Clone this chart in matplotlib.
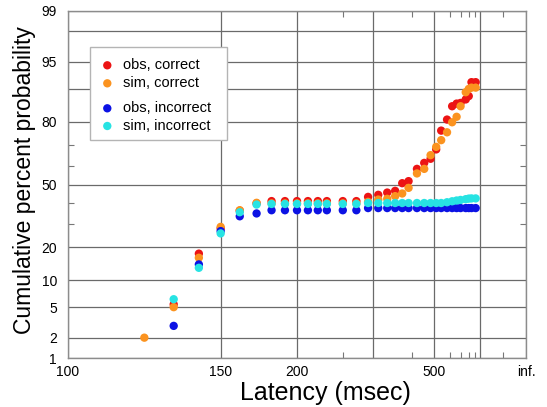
from statistics import NormalDist

import matplotlib

matplotlib.use("Agg")
import matplotlib.pyplot as plt
import numpy as np
from matplotlib.patches import Rectangle

# latency bins (ms) shared by all four series
latency_ms = [120, 130, 140, 150, 160, 170, 180, 190, 200, 210, 220, 230, 250, 270,
              290, 310, 330, 350, 370, 390, 420, 450, 480, 510, 540, 580, 620, 660,
              700, 760, 800, 840, 910]

# cumulative percent; nan = nothing plotted (0 %)
obs_correct = [np.nan, 5.4, 17.7, 27.8, 36.3, 40.0, 41.2, 41.2, 41.2, 41.2, 41.2, 41.2,
               41.2, 41.2, 43.4, 44.5, 45.7, 46.6, 50.7, 51.8, 58.3, 61.4, 63.5, 68.1,
               76.5, 80.8, 85.3, 86.1, 86.3, 87.3, 88.2, 91.5, 91.5]
sim_correct = [2.0, 5.0, 16.3, 28.5, 36.5, 40.3, 40.0, 40.0, 40.0, 40.0, 40.0, 40.0,
               40.0, 40.0, 40.8, 42.0, 42.4, 43.8, 45.2, 48.2, 55.9, 58.3, 65.3, 69.3,
               72.4, 75.8, 79.8, 81.8, 85.3, 89.2, 90.0, 90.3, 90.3]
obs_incorrect = [np.nan, 2.9, 14.2, 26.6, 33.5, 34.9, 36.5, 36.5, 36.5, 36.5, 36.5, 36.5,
                 36.5, 36.5, 37.6, 37.6, 37.6, 37.6, 37.6, 37.6, 37.6, 37.6, 37.6, 37.6,
                 37.6, 37.6, 37.6, 37.6, 37.6, 37.6, 37.6, 37.6, 37.6]
sim_incorrect = [np.nan, 6.2, 13.2, 25.6, 35.5, 39.4, 39.7, 39.7, 39.7, 39.7, 39.7, 39.7,
                 39.7, 39.7, 40.2, 40.2, 40.2, 40.2, 40.2, 40.2, 40.2, 40.2, 40.2, 40.2,
                 40.2, 40.6, 41.1, 41.5, 41.8, 42.2, 42.5, 42.6, 42.6]

series_labels = ["obs, correct", "sim, correct", "obs, incorrect", "sim, incorrect"]
series_colors = ["#ec1414", "#fb931f", "#0c12e4", "#27e3e3"]

x_major = [100, 150, 200, 300, 500, 1000, np.inf]
x_major_labels = ["100", "150", "200", "", "500", "", "inf."]
x_minor = [250, 400, 600, 700, 800, 900, 2000]
y_major = [1, 2, 5, 10, 20, 50, 80, 90, 95, 98, 99]
y_major_labels = ["1", "2", "5", "10", "20", "50", "80", "", "95", "", "99"]
y_minor = [30, 40, 60, 70]

_norm = NormalDist()


def reciprocal(lat):
    # reciprobit x axis: -1/latency, so infinite latency sits at 0
    with np.errstate(divide="ignore"):
        return -1000.0 / np.asarray(lat, dtype=float)


def probit(pct):
    pct = np.atleast_1d(np.asarray(pct, dtype=float))
    return np.array([_norm.inv_cdf(p / 100) if np.isfinite(p) else np.nan for p in pct])


plt.rcParams["font.family"] = ["Liberation Sans", "DejaVu Sans"]

fig = plt.figure(figsize=(5.47, 4.07), dpi=100)
ax = fig.add_axes([68 / 547, 49 / 407, 458 / 547, 347 / 407])

x = reciprocal(latency_ms)
for vals, col in zip([obs_correct, sim_correct, obs_incorrect, sim_incorrect], series_colors):
    ax.scatter(x, probit(vals), s=36, color=col, edgecolors="none", zorder=3)

ax.set_xlim(reciprocal(100), 0)
ax.set_ylim(probit(1)[0], probit(99)[0])

ax.set_xticks(reciprocal(x_major))
ax.set_xticklabels(x_major_labels)
ax.set_xticks(reciprocal(x_minor), minor=True)
ax.set_yticks(probit(y_major))
ax.set_yticklabels(y_major_labels)
ax.set_yticks(probit(y_minor), minor=True)

ax.tick_params(which="major", length=0, labelsize=10, colors="black")
ax.tick_params(axis="x", which="major", pad=5)
ax.tick_params(axis="y", which="major", pad=8)
ax.tick_params(which="minor", direction="in", length=4, width=0.8, color="#777777",
               top=True, right=True)
ax.grid(True, which="major", color="#6a6a6a", linewidth=0.9, zorder=1)
ax.set_axisbelow(True)
for sp in ax.spines.values():
    sp.set_color("#8c8c8c")
    sp.set_linewidth(1.0)

ax.set_xlabel("Latency (msec)", fontsize=18)
ax.xaxis.label.set_va("center")
ax.xaxis.set_label_coords(0.561, -0.101)
ax.set_ylabel("Cumulative percent probability", fontsize=16.5)
ax.yaxis.label.set_va("center")
ax.yaxis.set_label_coords(-0.096, 0.512)

# legend box with a gap between the correct and incorrect pairs
ax.add_patch(Rectangle((0.048, 0.628), 0.299, 0.268, transform=ax.transAxes,
                       facecolor="white", edgecolor="#b4b4b4", linewidth=1.0, zorder=4))
legend_rows = [0.8435, 0.7916, 0.7196, 0.6686]
for lab, col, yy in zip(series_labels, series_colors, legend_rows):
    ax.scatter([0.0858], [yy], s=36, color=col, edgecolors="none",
               transform=ax.transAxes, zorder=5, clip_on=False)
    ax.text(0.1207, yy, lab, transform=ax.transAxes, fontsize=10.5,
            va="center", ha="left", zorder=5)

fig.savefig("out.png", dpi=100)
